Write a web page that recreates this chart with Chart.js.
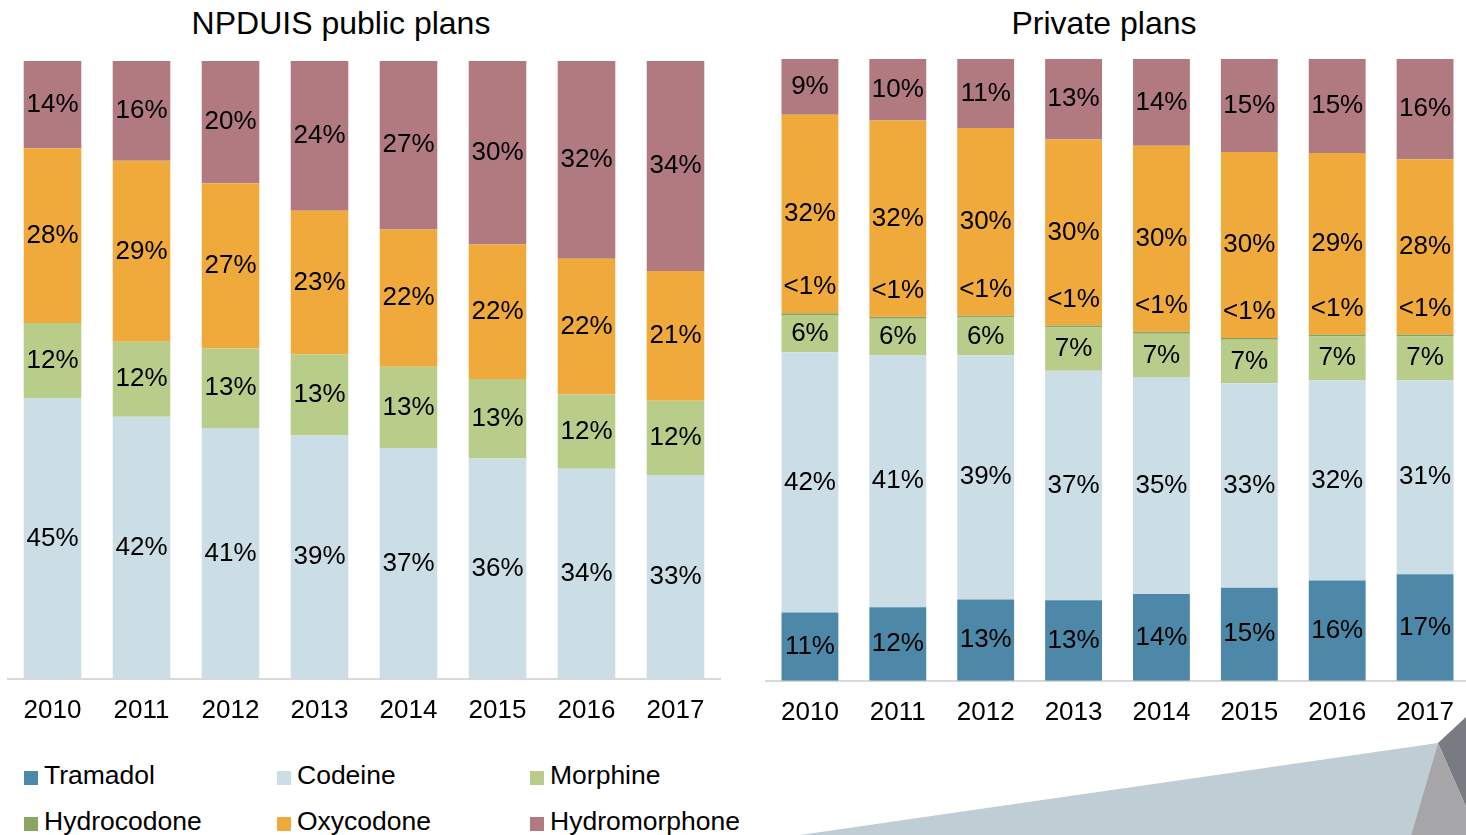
<!DOCTYPE html>
<html>
<head>
<meta charset="utf-8">
<title>Opioid mix by plan type</title>
<script src="https://cdn.jsdelivr.net/npm/chart.js@4.4.1/dist/chart.umd.min.js"></script>
<style>
  html, body { margin: 0; padding: 0; background: #fff; }
  body { width: 1466px; height: 835px; position: relative; overflow: hidden; font-family: Arial, "Liberation Sans", sans-serif; }
  #publicWrap { position: absolute; left: 0; top: 0; }
  #privateWrap { position: absolute; left: 760px; top: 0; }
  #deco { position: absolute; left: 0; top: 0; }
  .chart-title { position: absolute; top: 4px; height: 38px; line-height: 38px; font-size: 32px; color: #000; text-align: center; white-space: nowrap; }
  .legend-item { position: absolute; height: 30px; line-height: 30px; font-size: 26.5px; color: #000; white-space: nowrap; }
  .legend-item span { display: inline-block; width: 14px; height: 14px; margin-right: 6px; vertical-align: -1px; }
</style>
</head>
<body>
<svg id="deco" width="1466" height="835">
  <polygon points="800,835 1438,743 1411,835" fill="#bfcdd4"/>
  <polygon points="1438,743 1466,717 1466,807" fill="#787c82"/>
  <polygon points="1438,743 1466,807 1466,835 1411,835" fill="#a6a6a8"/>
</svg>
<div class="chart-title" style="left: 141px; width: 400px;">NPDUIS public plans</div>
<div class="chart-title" style="left: 904px; width: 400px;">Private plans</div>
<div id="publicWrap"><canvas id="publicChart" width="730" height="744"></canvas></div>
<div id="privateWrap"><canvas id="privateChart" width="710" height="746"></canvas></div>
<div id="legend"></div>

<script>
const years = ['2010', '2011', '2012', '2013', '2014', '2015', '2016', '2017'];
const drugs = ['Tramadol', 'Codeine', 'Morphine', 'Hydrocodone', 'Oxycodone', 'Hydromorphone'];
const colors = ['#4e88a8', '#cbdde5', '#b8cd89', '#8aa462', '#f0aa3c', '#b07a80'];

// NPDUIS public plans (% of prescriptions)
const publicTramadol      = [0, 0, 0, 0, 0, 0, 0, 0];
const publicCodeine       = [45, 42, 41, 39, 37, 36, 34, 33];
const publicMorphine      = [12, 12, 13, 13, 13, 13, 12, 12];
const publicHydrocodone   = [0, 0, 0, 0, 0, 0, 0, 0];
const publicOxycodone     = [28, 29, 27, 23, 22, 22, 22, 21];
const publicHydromorphone = [14, 16, 20, 24, 27, 30, 32, 34];

// private plans (%), hydrocodone is under 1%
const privateTramadol      = [11, 12, 13, 13, 14, 15, 16, 17];
const privateCodeine       = [42, 41, 39, 37, 35, 33, 32, 31];
const privateMorphine      = [6, 6, 6, 7, 7, 7, 7, 7];
const privateHydrocodone   = [0.3, 0.3, 0.3, 0.3, 0.3, 0.3, 0.3, 0.3];
const privateOxycodone     = [32, 32, 30, 30, 30, 30, 29, 28];
const privateHydromorphone = [9, 10, 11, 13, 14, 15, 15, 16];

const FONT = 'Arial, "Liberation Sans", sans-serif';

// draws the percent text on each segment
const valueLabels = {
  id: 'valueLabels',
  afterDatasetsDraw(chart) {
    const ctx = chart.ctx;
    ctx.save();
    ctx.font = '26px ' + FONT;
    ctx.fillStyle = '#000';
    ctx.textAlign = 'center';
    ctx.textBaseline = 'middle';
    chart.data.datasets.forEach((ds, di) => {
      chart.getDatasetMeta(di).data.forEach((bar, i) => {
        const v = ds.raw[i];
        if (!v) return;
        if (v < 1) {
          // tiny segment: put label just above it
          ctx.fillText('<1%', bar.x, bar.y - 26);
        } else {
          ctx.fillText(v + '%', bar.x, (bar.y + bar.base) / 2);
        }
      });
    });
    ctx.restore();
  }
};

function makeChart(id, series, padding) {
  // scale each year to 100%
  const totals = years.map((_, i) => series.reduce((s, arr) => s + arr[i], 0));
  const datasets = series.map((arr, k) => ({
    label: drugs[k],
    raw: arr,
    data: arr.map((v, i) => v / totals[i] * 100),
    backgroundColor: colors[k],
    borderWidth: 0,
    barPercentage: 0.647,
    categoryPercentage: 1
  }));

  return new Chart(document.getElementById(id), {
    type: 'bar',
    data: { labels: years, datasets: datasets },
    plugins: [valueLabels],
    options: {
      responsive: false,
      animation: false,
      layout: { padding: padding },
      plugins: {
        legend: { display: false },
        tooltip: { enabled: false }
      },
      scales: {
        x: {
          stacked: true,
          grid: { display: false, drawTicks: false },
          border: { display: true, color: '#d9d9d9', width: 2 },
          ticks: { color: '#000', padding: 16, font: { family: FONT, size: 26 } }
        },
        y: {
          stacked: true,
          display: false,
          min: 0,
          max: 100
        }
      }
    }
  });
}

makeChart('publicChart',
  [publicTramadol, publicCodeine, publicMorphine, publicHydrocodone, publicOxycodone, publicHydromorphone],
  { left: 8, right: 10, top: 61, bottom: 2 });

makeChart('privateChart',
  [privateTramadol, privateCodeine, privateMorphine, privateHydrocodone, privateOxycodone, privateHydromorphone],
  { left: 6, right: 0, top: 59, bottom: 2 });

// legend, three columns by two rows
const legend = document.getElementById('legend');
drugs.forEach((name, k) => {
  const item = document.createElement('div');
  item.className = 'legend-item';
  item.style.left = (24 + (k % 3) * 253) + 'px';
  item.style.top = (760 + Math.floor(k / 3) * 46) + 'px';
  const box = document.createElement('span');
  box.style.background = colors[k];
  item.appendChild(box);
  item.appendChild(document.createTextNode(name));
  legend.appendChild(item);
});
</script>
</body>
</html>
